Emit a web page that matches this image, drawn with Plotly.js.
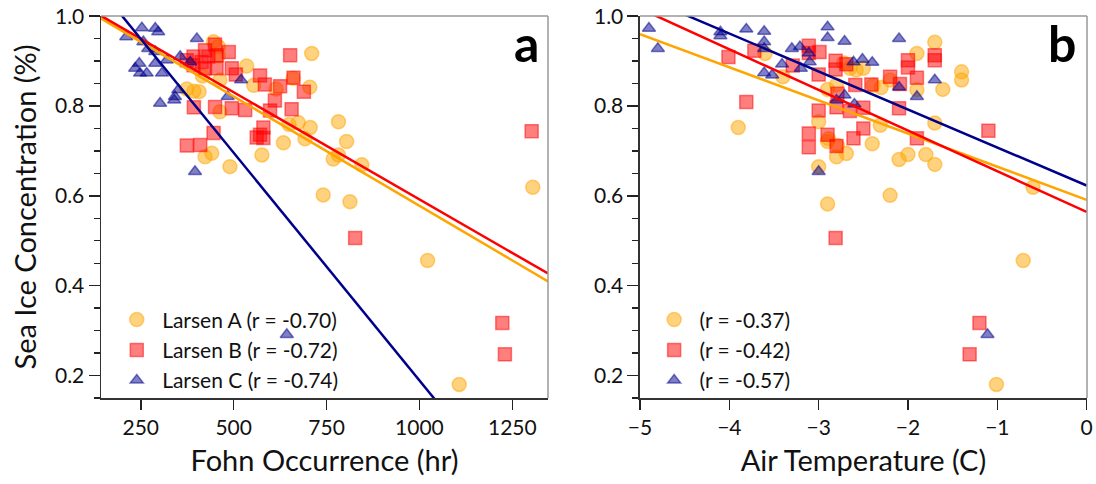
<!DOCTYPE html>
<html>
<head>
<meta charset="utf-8">
<script src="https://cdn.plot.ly/plotly-3.0.1.min.js"></script>
<style>html,body{margin:0;padding:0;background:#fff}#chart{width:1096px;height:484px}</style>
</head>
<body>
<div id="chart"></div>
<script>
// ---- Panel a: Fohn occurrence (hr) vs sea ice concentration ----
var fohnA = [446,459,459,535,710,660,705,554,614,416,463,374,393,407,463,649,674,706,692,634,576,441,423,490,782,804,768,782,845,741,813,1022,1107,1305];
var sicA1 = [0.943,0.932,0.912,0.889,0.917,0.862,0.842,0.846,0.838,0.867,0.858,0.838,0.833,0.832,0.787,0.759,0.763,0.752,0.727,0.718,0.691,0.695,0.687,0.665,0.765,0.721,0.682,0.691,0.669,0.602,0.587,0.456,0.180,0.619];
var fohnB = [450,487,423,454,392,414,432,454,423,392,374,495,506,652,571,584,625,661,689,611,656,598,531,495,450,393,580,571,562,580,446,410,374,827,1223,1230,1302];
var sicB1 = [0.937,0.920,0.924,0.913,0.910,0.898,0.910,0.884,0.884,0.891,0.902,0.884,0.870,0.913,0.868,0.848,0.844,0.863,0.832,0.812,0.793,0.790,0.791,0.795,0.798,0.797,0.752,0.736,0.730,0.729,0.740,0.713,0.712,0.506,0.317,0.247,0.744];
var fohnC = [211,253,289,297,257,270,289,246,235,248,266,307,289,320,356,383,401,351,342,302,520,484,396,643,340];
var sicC1 = [0.954,0.974,0.973,0.965,0.943,0.928,0.921,0.895,0.884,0.873,0.873,0.873,0.895,0.902,0.910,0.898,0.950,0.836,0.821,0.806,0.858,0.821,0.654,0.291,0.813];

// regression lines (end points)
var fitFohnX = [143, 1346];
var fitFohnA = [0.995, 0.4095];
var fitFohnB = [1.001, 0.427];
var fitFohnC = [1.058, -0.162];

// ---- Panel b: Air temperature (C) vs sea ice concentration ----
var tempA = [-3.60,-3.40,-3.90,-3.00,-2.90,-2.90,-2.80,-3.00,-2.80,-2.90,-2.72,-2.65,-2.58,-2.50,-2.39,-2.30,-2.20,-1.90,-1.70,-1.90,-1.61,-1.40,-1.40,-1.70,-2.31,-2.40,-2.89,-2.79,-2.69,-2.10,-2.00,-1.80,-1.70,-2.20,-0.71,-1.01,-0.60];
var sicA2 = [0.917,0.865,0.752,0.765,0.837,0.721,0.847,0.665,0.687,0.582,0.896,0.884,0.880,0.884,0.846,0.841,0.858,0.917,0.942,0.836,0.837,0.876,0.858,0.762,0.757,0.716,0.727,0.712,0.694,0.681,0.692,0.692,0.670,0.601,0.456,0.180,0.619];
var tempB = [-4.01,-3.81,-3.72,-3.11,-3.11,-2.99,-3.29,-3.00,-3.00,-3.11,-3.11,-2.90,-2.81,-2.81,-2.69,-2.59,-2.41,-2.79,-2.80,-2.65,-2.50,-2.50,-2.61,-2.80,-2.20,-2.09,-2.00,-2.00,-1.90,-1.70,-1.70,-2.10,-1.90,-2.81,-1.20,-1.31,-1.10];
var sicB2 = [0.909,0.809,0.923,0.934,0.918,0.920,0.890,0.870,0.790,0.739,0.708,0.736,0.901,0.881,0.893,0.847,0.848,0.827,0.797,0.789,0.796,0.750,0.728,0.711,0.865,0.849,0.902,0.886,0.863,0.913,0.902,0.795,0.728,0.506,0.317,0.247,0.745];
var tempC = [-4.90,-4.80,-4.10,-4.10,-3.81,-3.61,-3.61,-3.61,-3.61,-3.52,-3.41,-3.30,-3.21,-3.11,-3.10,-3.20,-2.90,-2.90,-2.71,-2.61,-2.51,-2.40,-2.10,-2.10,-1.90,-1.70,-2.80,-2.71,-2.60,-3.00,-1.11];
var sicC2 = [0.973,0.928,0.965,0.956,0.971,0.966,0.943,0.928,0.874,0.869,0.893,0.928,0.932,0.918,0.898,0.884,0.976,0.952,0.944,0.898,0.904,0.897,0.950,0.842,0.821,0.858,0.813,0.824,0.804,0.654,0.291];

var fitTempX = [-5, 0];
var fitTempA = [0.960, 0.591];
var fitTempB = [1.017, 0.564];
var fitTempC = [1.046, 0.623];

var namesA = ['Larsen A (r = -0.70)', 'Larsen B (r = -0.72)', 'Larsen C (r = -0.74)'];
var namesB = ['(r = -0.37)', '(r = -0.42)', '(r = -0.57)'];

var FONT = 'Lato, "Open Sans", sans-serif';
var cOrange = 'rgba(255,165,0,0.5)', cRed = 'rgba(255,0,0,0.5)', cNavy = 'rgba(0,0,139,0.5)';

function pts(x, y, color, symbol, size, name, xa, ya, leg) {
  return {x: x, y: y, type: 'scatter', mode: 'markers', name: '\u00A0' + name,
    xaxis: xa, yaxis: ya, legend: leg, cliponaxis: true,
    marker: {color: color, symbol: symbol, size: size, line: {color: color, width: 1.5}}};
}
function fit(x, y, color, xa, ya) {
  return {x: x, y: y, type: 'scatter', mode: 'lines', showlegend: false, hoverinfo: 'skip',
    xaxis: xa, yaxis: ya, line: {color: color, width: 2.5}};
}

var data = [
  pts(fohnA, sicA1, cOrange, 'circle', 14, namesA[0], 'x', 'y', 'legend'),
  pts(fohnB, sicB1, cRed, 'square', 13, namesA[1], 'x', 'y', 'legend'),
  pts(fohnC, sicC1, cNavy, 'triangle-up', 11.5, namesA[2], 'x', 'y', 'legend'),
  fit(fitFohnX, fitFohnA, 'orange', 'x', 'y'),
  fit(fitFohnX, fitFohnB, 'red', 'x', 'y'),
  fit(fitFohnX, fitFohnC, '#00008B', 'x', 'y'),
  pts(tempA, sicA2, cOrange, 'circle', 14, namesB[0], 'x2', 'y2', 'legend2'),
  pts(tempB, sicB2, cRed, 'square', 13, namesB[1], 'x2', 'y2', 'legend2'),
  pts(tempC, sicC2, cNavy, 'triangle-up', 11.5, namesB[2], 'x2', 'y2', 'legend2'),
  fit(fitTempX, fitTempA, 'orange', 'x2', 'y2'),
  fit(fitTempX, fitTempB, 'red', 'x2', 'y2'),
  fit(fitTempX, fitTempC, '#00008B', 'x2', 'y2')
];

var tickFont = {family: FONT, size: 21, color: '#111'};
var titleFont = {family: FONT, size: 29, color: '#111'};
function xax(domain, range, tickvals, ticktext, title, anchor) {
  return {domain: domain, range: range, anchor: anchor, tickmode: 'array', tickvals: tickvals, ticktext: ticktext,
    ticks: 'outside', ticklen: 10, tickwidth: 1.5, tickcolor: '#222', showline: true, linecolor: '#333', linewidth: 1.5,
    showgrid: false, zeroline: false, tickfont: tickFont, automargin: false,
    title: {text: title, font: titleFont, standoff: 13}};
}
function yax(anchor, title) {
  return {domain: [0, 1], range: [0.1498, 1.0004], anchor: anchor, tickmode: 'linear', tick0: 0, dtick: 0.2, tickformat: '.1f',
    ticks: 'outside', ticklen: 11, tickwidth: 1.5, tickcolor: '#222', showline: true, linecolor: '#333', linewidth: 1.5,
    showgrid: false, zeroline: false, tickfont: tickFont, automargin: false,
    minor: {tick0: 0, dtick: 0.05, ticks: 'outside', ticklen: 6, tickwidth: 1.2, tickcolor: '#222', showgrid: false},
    title: {text: title, font: titleFont, standoff: 10}};
}

var layout = {
  width: 1096, height: 484,
  margin: {l: 101, r: 9, t: 16, b: 86},
  paper_bgcolor: '#fff', plot_bgcolor: '#fff',
  font: {family: FONT, color: '#111'},
  xaxis: xax([0, 0.45335], [143, 1346], [250, 500, 750, 1000, 1250], ['250', '500', '750', '1000', '1250'], 'Fohn Occurrence (hr)', 'y'),
  yaxis: yax('x', 'Sea Ice Concentration (%)'),
  xaxis2: xax([0.54665, 1], [-5, 0.004], [-5, -4, -3, -2, -1, 0], ['\u22125', '\u22124', '\u22123', '\u22122', '\u22121', '0'], 'Air Temperature (C)', 'y2'),
  yaxis2: yax('x2', ''),
  legend: {x: 0.016, y: 0.258, xanchor: 'left', yanchor: 'top', bgcolor: 'rgba(0,0,0,0)',
    font: {family: FONT, size: 21, color: '#111'}, itemsizing: 'trace'},
  legend2: {x: 0.561, y: 0.258, xanchor: 'left', yanchor: 'top', bgcolor: 'rgba(0,0,0,0)',
    font: {family: FONT, size: 21, color: '#111'}, itemsizing: 'trace'},
  shapes: [
    {type: 'line', xref: 'x domain', yref: 'y domain', x0: 0, x1: 1, y0: 1, y1: 1, line: {color: '#999', width: 1.5}},
    {type: 'line', xref: 'x domain', yref: 'y domain', x0: 1, x1: 1, y0: 0, y1: 1, line: {color: '#999', width: 1.5}},
    {type: 'line', xref: 'x2 domain', yref: 'y2 domain', x0: 0, x1: 1, y0: 1, y1: 1, line: {color: '#999', width: 1.5}},
    {type: 'line', xref: 'x2 domain', yref: 'y2 domain', x0: 1, x1: 1, y0: 0, y1: 1, line: {color: '#999', width: 1.5}}
  ],
  annotations: [
    {text: '<b>a</b>', xref: 'paper', yref: 'paper', x: 0.4462, y: 0.929, xanchor: 'right', yanchor: 'middle', showarrow: false,
      font: {family: FONT, size: 50, color: '#000'}},
    {text: '<b>b</b>', xref: 'paper', yref: 'paper', x: 0.9909, y: 0.929, xanchor: 'right', yanchor: 'middle', showarrow: false,
      font: {family: FONT, size: 50, color: '#000'}}
  ],
  showlegend: true
};

Plotly.newPlot('chart', data, layout, {staticPlot: true, displayModeBar: false});
</script>
</body>
</html>
